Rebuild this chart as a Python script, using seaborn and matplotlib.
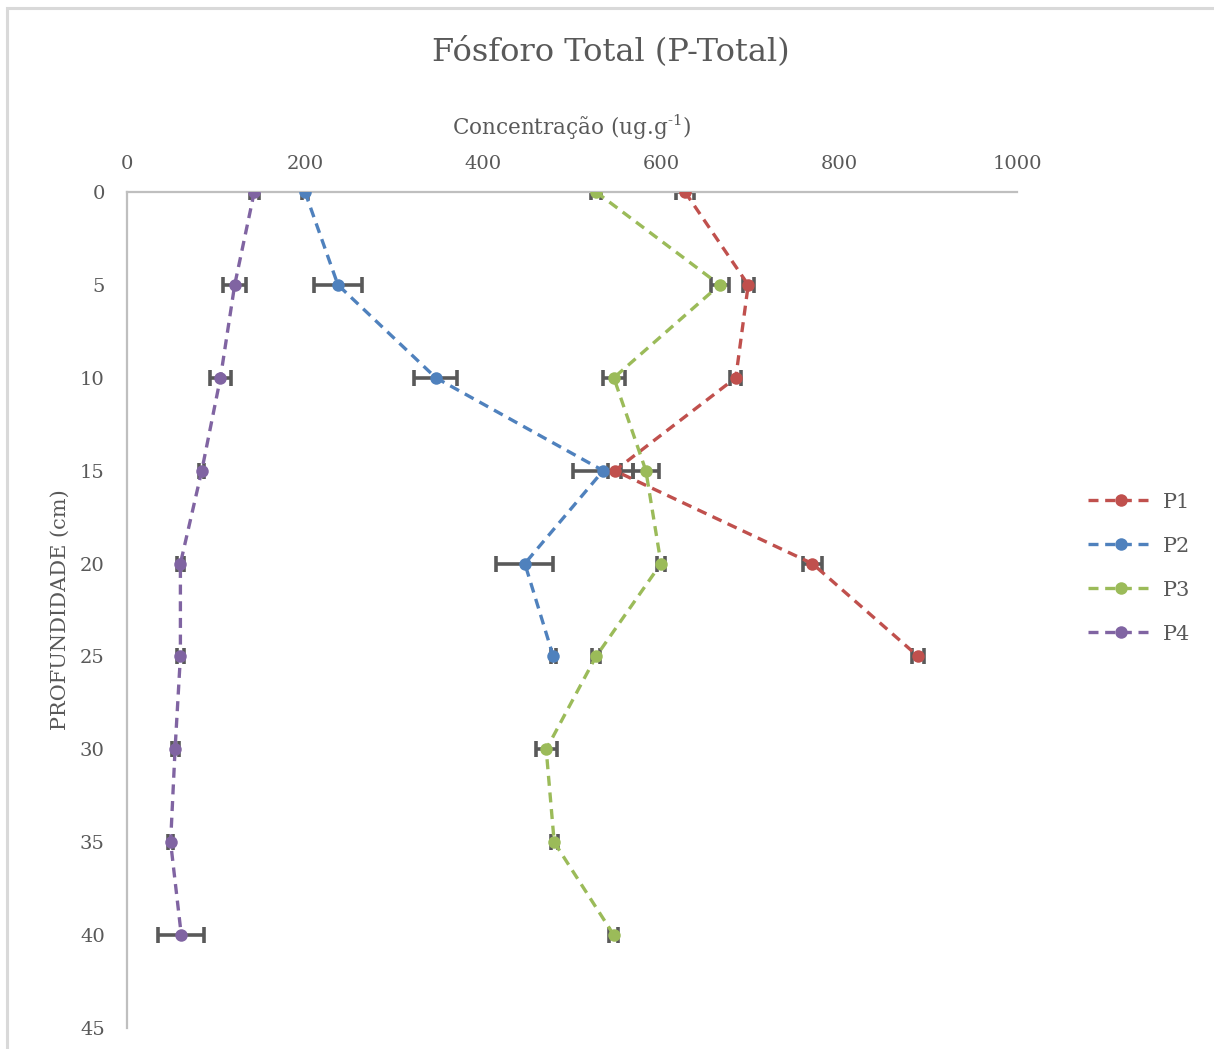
import numpy as np
import pandas as pd
import matplotlib
matplotlib.use("Agg")
import matplotlib.pyplot as plt
from matplotlib.patches import Rectangle
from matplotlib.lines import Line2D
import seaborn as sns

# Depth profiles of total phosphorus (ug/g) at four sampling points
depth_p1 = [0, 5, 10, 15, 20, 25]
conc_p1 = [627, 698, 684, 548, 770, 889]
err_p1 = [10, 6, 6, 7, 11, 7]

depth_p2 = [0, 5, 10, 15, 20, 25]
conc_p2 = [200, 237, 347, 535, 447, 479]
err_p2 = [3, 27, 24, 34, 32, 3]

depth_p3 = [0, 5, 10, 15, 20, 25, 30, 35, 40]
conc_p3 = [527, 666, 547, 583, 600, 527, 471, 480, 547]
err_p3 = [6, 10, 12, 15, 5, 4, 12, 4, 5]

depth_p4 = [0, 5, 10, 15, 20, 25, 30, 35, 40]
conc_p4 = [143, 121, 105, 84, 60, 60, 54, 49, 61]
err_p4 = [5, 13, 12, 3, 4, 4, 4, 3, 26]

series_names = ["P1", "P2", "P3", "P4"]
series_colors = ["#C0504D", "#4F81BD", "#9BBB59", "#8064A2"]

frames = []
for name, d, c, e in zip(series_names,
                         [depth_p1, depth_p2, depth_p3, depth_p4],
                         [conc_p1, conc_p2, conc_p3, conc_p4],
                         [err_p1, err_p2, err_p3, err_p4]):
    frames.append(pd.DataFrame({"ponto": name, "prof": d, "conc": c, "err": e}))
df = pd.concat(frames, ignore_index=True)

sns.set_theme(style="white")
plt.rcParams["font.family"] = ["DejaVu Serif"]
plt.rcParams["mathtext.fontset"] = "dejavuserif"
text_color = "#595959"
dash = (0, (3, 2))

fig = plt.figure(figsize=(12.14, 10.49), dpi=100)
W, H = 1214, 1049
ax = fig.add_axes([127 / W, 1 - 1028 / H, (1017 - 127) / W, (1028 - 192) / H])

# outer chart frame
fig.patches.append(Rectangle((7 / W, -0.05), 1.2, 1 - 8 / H + 0.05,
                             transform=fig.transFigure, fill=False,
                             edgecolor="#D9D9D9", linewidth=2.2, zorder=0))

# error bars underneath the lines
for name in series_names:
    sub = df[df["ponto"] == name]
    ax.errorbar(sub["conc"], sub["prof"], xerr=sub["err"], fmt="none",
                ecolor="#595959", elinewidth=2.6, capsize=5.5, capthick=2.6,
                zorder=2)

sns.lineplot(data=df, x="conc", y="prof", hue="ponto", palette=series_colors,
             sort=False, estimator=None, marker="o", markersize=9,
             markeredgewidth=0, linewidth=2.4, linestyle=dash,
             ax=ax, zorder=3, legend=False)

ax.set_xlim(0, 1000)
ax.set_ylim(45, 0)
ax.set_xticks(np.arange(0, 1001, 200))
ax.set_yticks(np.arange(0, 46, 5))
ax.xaxis.tick_top()
ax.xaxis.set_label_position("top")
ax.tick_params(axis="both", length=0, labelsize=14, colors=text_color)
ax.tick_params(axis="x", pad=14)
ax.tick_params(axis="y", pad=16)
for side in ["right", "bottom"]:
    ax.spines[side].set_visible(False)
for side in ["left", "top"]:
    ax.spines[side].set_color("#BFBFBF")
    ax.spines[side].set_linewidth(1.6)

ax.set_xlabel(r"Concentração (ug.g$^{\text{-1}}$)", fontsize=15.5,
              color=text_color, labelpad=14)
ax.set_ylabel("PROFUNDIDADE (cm)", fontsize=15, color=text_color)
ax.yaxis.set_label_coords(-57 / 890, 0.5)
fig.text(611 / W, 1 - 52 / H, "Fósforo Total (P-Total)", fontsize=23,
         color=text_color, ha="center", va="center")

# legend on the right
handles = [Line2D([0], [0], color=c, linestyle=dash, linewidth=2.4,
                  marker="o", markersize=9, markeredgewidth=0)
           for c in series_colors]
fig.legend(handles, series_names, loc="upper left",
           bbox_to_anchor=(1069 / W, 1 - 474 / H), frameon=False,
           fontsize=15, labelcolor=text_color, handlelength=3.2,
           labelspacing=1.2, handletextpad=0.4)

fig.savefig("out.png", dpi=100, facecolor="white")
